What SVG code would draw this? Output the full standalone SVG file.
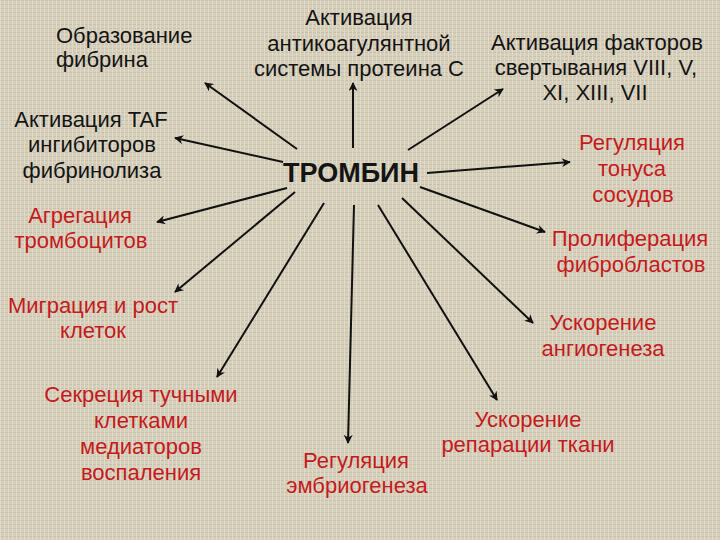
<svg xmlns="http://www.w3.org/2000/svg" width="720" height="540" viewBox="0 0 720 540">
<defs>
<pattern id="tex" width="4" height="4" patternUnits="userSpaceOnUse">
<rect width="4" height="4" fill="#d6cfbb"/>
<rect x="0" y="0" width="4" height="1" fill="#c9c1ac"/>
<rect x="0" y="0" width="1" height="4" fill="#e0dac8"/>
</pattern>
<marker id="ah" viewBox="0 0 10 10" refX="9" refY="5" markerWidth="11" markerHeight="9" markerUnits="userSpaceOnUse" orient="auto">
<path d="M0,0 L10,5 L0,10 L3,5 Z" fill="#111"/>
</marker>
<style>
text{font-family:"Liberation Sans",Arial,sans-serif;font-size:22px;text-anchor:middle}
.k{fill:#141414}
.r{fill:#c41a20}
.c{stroke:#111;stroke-width:2;fill:none;marker-end:url(#ah)}
.t{font-size:27px;font-weight:bold}
</style>
</defs>
<rect width="720" height="540" fill="url(#tex)"/>
<g id="connectors">
<line class="c" x1="297" y1="149" x2="205" y2="83"/>
<line class="c" x1="283" y1="162" x2="175" y2="138"/>
<line class="c" x1="353" y1="148" x2="353" y2="83"/>
<line class="c" x1="408" y1="150" x2="503" y2="89"/>
<line class="c" x1="427" y1="173" x2="570" y2="162"/>
<line class="c" x1="420" y1="187" x2="545" y2="232"/>
<line class="c" x1="402" y1="198" x2="533" y2="323"/>
<line class="c" x1="378" y1="205" x2="497" y2="400"/>
<line class="c" x1="354" y1="205" x2="348" y2="443"/>
<line class="c" x1="324" y1="203" x2="217" y2="377"/>
<line class="c" x1="295" y1="192" x2="175" y2="292"/>
<line class="c" x1="287" y1="188" x2="157" y2="222"/>
</g>
<g id="thrombin"><text class="k t" x="351" y="182">ТРОМБИН</text></g>
<g id="fibrin"><text class="k" x="56" y="43" style="text-anchor:start">Образование</text><text class="k" x="56" y="67" style="text-anchor:start">фибрина</text></g>
<g id="anticoag"><text class="k" x="359" y="25">Активация</text><text class="k" x="359" y="51">антикоагулянтной</text><text class="k" x="359" y="76">системы протеина С</text></g>
<g id="factors"><text class="k" x="597" y="50">Активация факторов</text><text class="k" x="596" y="75">свертывания VIII, V,</text><text class="k" x="595" y="100">XI, XIII, VII</text></g>
<g id="taf"><text class="k" x="91" y="127">Активация TAF</text><text class="k" x="92" y="152">ингибиторов</text><text class="k" x="92" y="178">фибринолиза</text></g>
<g id="tonus"><text class="r" x="632" y="150">Регуляция</text><text class="r" x="632" y="176">тонуса</text><text class="r" x="633" y="202">сосудов</text></g>
<g id="aggreg"><text class="r" x="80" y="223">Агрегация</text><text class="r" x="81" y="248">тромбоцитов</text></g>
<g id="prolif"><text class="r" x="630" y="246">Пролиферация</text><text class="r" x="631" y="272">фибробластов</text></g>
<g id="migr"><text class="r" x="93" y="313">Миграция и рост</text><text class="r" x="93" y="338">клеток</text></g>
<g id="angio"><text class="r" x="603" y="330">Ускорение</text><text class="r" x="603" y="356">ангиогенеза</text></g>
<g id="secr"><text class="r" x="141" y="402">Секреция тучными</text><text class="r" x="141" y="428">клетками</text><text class="r" x="141" y="454">медиаторов</text><text class="r" x="141" y="480">воспаления</text></g>
<g id="repar"><text class="r" x="528" y="427">Ускорение</text><text class="r" x="528" y="452">репарации ткани</text></g>
<g id="embryo"><text class="r" x="356" y="468">Регуляция</text><text class="r" x="357" y="493">эмбриогенеза</text></g>
</svg>
